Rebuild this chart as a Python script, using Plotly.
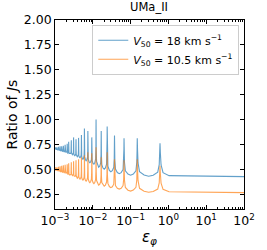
import numpy as np
import plotly.graph_objects as go

# Resonance peak positions (epsilon_phi) (right to left)
peak_eps = [0.6, 0.15, 0.067, 0.0375, 0.024, 0.0167, 0.0122, 0.0094, 0.0074, 0.006,
            0.005, 0.0042, 0.0036, 0.0031, 0.0027, 0.0023, 0.0021, 0.00185, 0.00166,
            0.0015, 0.00136, 0.00124, 0.00113, 0.00104]

# V50 = 18 km/s
blue_peak = [0.76, 0.81, 0.81, 0.84, 0.93, 0.885, 1.00, 0.82, 0.885, 0.91, 0.845, 0.815,
             0.80, 0.82, 0.79, 0.775, 0.755, 0.745, 0.735, 0.73, 0.73, 0.725, 0.72, 0.72]
# troughs: plateau (right of first peak), then between consecutive peaks, then left edge
blue_trough = [0.425, 0.43, 0.44, 0.455, 0.475, 0.50, 0.52, 0.55, 0.565, 0.585, 0.60,
               0.615, 0.625, 0.635, 0.645, 0.655, 0.66, 0.67, 0.675, 0.68, 0.685, 0.69,
               0.695, 0.70, 0.70]

# V50 = 10.5 km/s
orange_peak = [0.535, 0.60, 0.59, 0.60, 0.67, 0.62, 0.72, 0.66, 0.67, 0.64, 0.62, 0.60,
               0.59, 0.58, 0.57, 0.56, 0.55, 0.545, 0.54, 0.535, 0.53, 0.525, 0.52, 0.52]
orange_trough = [0.265, 0.268, 0.28, 0.30, 0.315, 0.33, 0.34, 0.355, 0.365, 0.38, 0.39,
                 0.40, 0.41, 0.425, 0.435, 0.44, 0.45, 0.46, 0.465, 0.47, 0.475, 0.48,
                 0.485, 0.49, 0.49]

x_ticks = [1e-3, 1e-2, 1e-1, 1, 10, 100]
x_ticklabels = ["10<sup>−3</sup>", "10<sup>−2</sup>", "10<sup>−1</sup>",
                "10<sup>0</sup>", "10<sup>1</sup>", "10<sup>2</sup>"]
y_ticks = [0.25, 0.5, 0.75, 1.0, 1.25, 1.5, 1.75, 2.0]
y_ticklabels = ["0.25", "0.50", "0.75", "1.00", "1.25", "1.50", "1.75", "2.00"]

x_min, x_max = 1e-3, 1e2

# peak profile shape (fraction of gap, fraction of peak height above trough)
SHAPE = [(0.3, 0.03), (0.1, 0.12), (0.035, 0.35), (0.012, 0.7)]


def build_path(peaks, troughs):
    lx = np.log10(peak_eps)
    pts = [(np.log10(x_max), troughs[0])]
    n = len(peaks)
    for i in range(n):
        right_gap = (lx[i - 1] - lx[i]) if i > 0 else 0.8
        left_gap = (lx[i] - lx[i + 1]) if i + 1 < n else (lx[i - 1] - lx[i])
        tr_r = troughs[i]
        tr_l = troughs[i + 1]
        p = peaks[i]
        for f, w in SHAPE:
            pts.append((lx[i] + f * right_gap, tr_r + w * (p - tr_r)))
        pts.append((lx[i], p))
        for f, w in SHAPE:
            pts.append((lx[i] - f * left_gap, tr_l + w * (p - tr_l)))
        pts.append((lx[i] - 0.5 * left_gap, tr_l))
    pts.append((np.log10(x_min) - 0.01, troughs[-1]))
    pts.sort(key=lambda t: t[0])
    xs = [10 ** a for a, _ in pts]
    ys = [b for _, b in pts]
    return xs, ys


bx, by = build_path(blue_peak, blue_trough)
ox, oy = build_path(orange_peak, orange_trough)

fig = go.Figure()
fig.add_trace(go.Scatter(x=bx, y=by, mode="lines",
                         line=dict(color="rgba(31,119,180,0.7)", width=1.1),
                         name="<i>V</i><sub>50</sub> = 18 km s<sup>−1</sup>"))
fig.add_trace(go.Scatter(x=ox, y=oy, mode="lines",
                         line=dict(color="rgba(255,127,14,0.7)", width=1.1),
                         name="<i>V</i><sub>50</sub> = 10.5 km s<sup>−1</sup>"))

minor_vals = [m * d for d in [1e-3, 1e-2, 1e-1, 1, 10] for m in range(2, 10)]

font = "DejaVu Sans"
fig.update_layout(
    width=267, height=250,
    margin=dict(l=44, r=13, t=14, b=32),
    paper_bgcolor="white", plot_bgcolor="white",
    font=dict(family=font, color="black", size=12),
    title=dict(text="UMa_II", x=(44 + 105) / 267, xanchor="center",
               y=1 - 7 / 250, yanchor="middle", font=dict(size=11.5)),
    showlegend=True,
    legend=dict(x=0.975, y=0.975, xanchor="right", yanchor="top",
                bgcolor="rgba(255,255,255,0.8)", bordercolor="#cccccc", borderwidth=1,
                font=dict(size=11), tracegroupgap=0, itemwidth=30),
)

fig.update_xaxes(
    type="log", range=[-3, 2],
    tickvals=x_ticks, ticktext=x_ticklabels,
    ticks="inside", ticklen=4, tickcolor="black", tickwidth=0.8,
    showline=True, linecolor="black", linewidth=0.8, mirror="ticks",
    showgrid=False, zeroline=False,
    minor=dict(tickmode="array", tickvals=minor_vals, ticks="inside", ticklen=2,
               tickcolor="black", tickwidth=0.6, showgrid=False),
    tickfont=dict(size=12.5),
    title=dict(text="<i>ε</i><sub><i>φ</i></sub>", font=dict(size=15), standoff=0),
)
fig.update_yaxes(
    range=[0.1, 2.0],
    tickvals=y_ticks, ticktext=y_ticklabels,
    ticks="inside", ticklen=4, tickcolor="black", tickwidth=0.8,
    showline=True, linecolor="black", linewidth=0.8, mirror="ticks",
    showgrid=False, zeroline=False,
    tickfont=dict(size=12.5),
    title=dict(text="Ratio of <i>J</i>s", font=dict(size=14), standoff=2),
)

fig.write_html("out.html", config={"displayModeBar": False},
               post_script="document.body.style.margin='0';")
